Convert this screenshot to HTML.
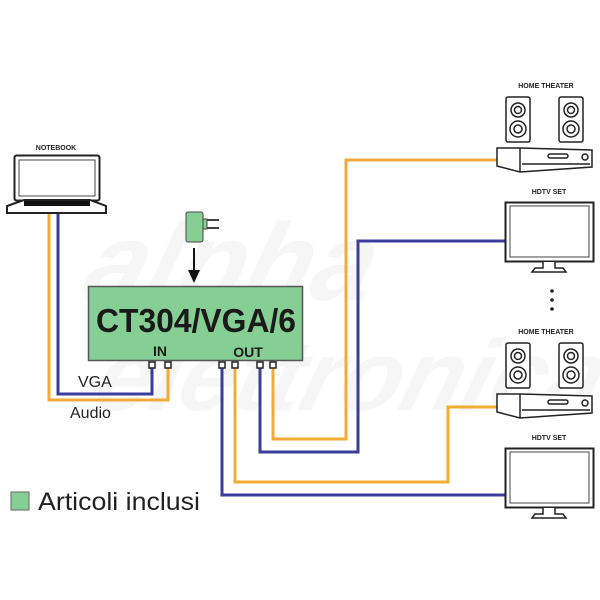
<!DOCTYPE html>
<html><head><meta charset="utf-8"><style>
html,body{margin:0;padding:0;background:#fff}
svg{display:block}
text{font-family:"Liberation Sans",sans-serif}
</style></head><body>
<svg width="600" height="600" viewBox="0 0 600 600" xmlns="http://www.w3.org/2000/svg">
<!-- faint watermark -->
<g fill="#f6f6f6" font-weight="bold" font-style="italic">
<text x="160" y="300" font-size="110" transform="skewX(-15)">alpha</text>
<text x="200" y="410" font-size="100" transform="skewX(-15)">elettronica</text>
</g>

<!-- cables -->
<g fill="none" stroke-width="3">
<polyline points="49,212 49,400 168,400 168,368" stroke="#f2ab35"/>
<polyline points="58,212 58,394 152,394 152,368" stroke="#3a3d9c"/>
<polyline points="222,368 222,495 505,495" stroke="#3a3d9c"/>
<polyline points="235,368 235,482 448,482 448,407 497,407" stroke="#f2ab35"/>
<polyline points="260,368 260,452 358,452 358,241 505,241" stroke="#3a3d9c"/>
<polyline points="273,368 273,439 346,439 346,160 497,160" stroke="#f2ab35"/>
</g>

<!-- notebook -->
<text x="56" y="150" font-size="7" font-weight="bold" text-anchor="middle" fill="#222">NOTEBOOK</text>
<rect x="14.5" y="155.5" width="85" height="45" rx="2" fill="#fff" stroke="#222" stroke-width="2"/>
<rect x="19" y="160" width="76" height="36" fill="#fff" stroke="#444" stroke-width="1"/>
<path d="M7,206 L24,200 L90,200 L106,206 L106,213 L7,213 Z" fill="#fff" stroke="#222" stroke-width="2"/>
<rect x="24" y="201" width="66" height="5" fill="#111"/>

<!-- adapter -->
<rect x="186" y="212" width="17" height="30" rx="2" fill="#86cf94" stroke="#444" stroke-width="1"/>
<rect x="203" y="219" width="4" height="10" fill="#86cf94" stroke="#444" stroke-width="1"/>
<line x1="207" y1="220" x2="219" y2="220" stroke="#444" stroke-width="2"/>
<line x1="207" y1="228" x2="219" y2="228" stroke="#444" stroke-width="2"/>
<line x1="194" y1="248" x2="194" y2="272" stroke="#111" stroke-width="2"/>
<polygon points="188,270 200,270 194,283" fill="#111"/>

<!-- main box -->
<rect x="88.5" y="286.5" width="214" height="74" fill="#86cf94" stroke="#555" stroke-width="1.5"/>
<text x="196" y="332" font-size="33" font-weight="bold" text-anchor="middle" fill="#1a1a1a" textLength="200" lengthAdjust="spacingAndGlyphs">CT304/VGA/6</text>
<text x="160" y="356" font-size="14" font-weight="bold" text-anchor="middle" fill="#1a1a1a">IN</text>
<text x="248" y="357" font-size="14" font-weight="bold" text-anchor="middle" fill="#1a1a1a">OUT</text>
<g fill="#fff" stroke="#222" stroke-width="1.5">
<rect x="149" y="362" width="6" height="6"/><rect x="165" y="362" width="6" height="6"/>
<rect x="219" y="362" width="6" height="6"/><rect x="232" y="362" width="6" height="6"/>
<rect x="257" y="362" width="6" height="6"/><rect x="270" y="362" width="6" height="6"/>
</g>
<text x="78" y="387" font-size="16" fill="#222">VGA</text>
<text x="70" y="418" font-size="16" fill="#222">Audio</text>

<defs>
<g id="ht">
<text x="546" y="0" font-size="7" font-weight="bold" text-anchor="middle" fill="#222">HOME THEATER</text>
<g fill="#fff" stroke="#222" stroke-width="1.5">
<rect x="506" y="9" width="24" height="45" rx="2"/>
<circle cx="518" cy="22" r="7"/><circle cx="518" cy="22" r="3.5"/>
<circle cx="518" cy="41" r="8"/><circle cx="518" cy="41" r="4"/>
<rect x="559" y="9" width="24" height="45" rx="2"/>
<circle cx="571" cy="22" r="7"/><circle cx="571" cy="22" r="3.5"/>
<circle cx="571" cy="41" r="8"/><circle cx="571" cy="41" r="4"/>
<path d="M497,60 L520,60 L592,62 L592,79 L520,84 L497,78 Z"/>
<line x1="520" y1="60" x2="520" y2="84"/>
<rect x="548" y="66" width="20" height="4" rx="2"/>
<circle cx="585" cy="69" r="3"/>
<line x1="522" y1="76" x2="590" y2="76"/>
</g>
</g>
<g id="tv">
<text x="549" y="0" font-size="7" font-weight="bold" text-anchor="middle" fill="#222">HDTV SET</text>
<rect x="505.5" y="8.5" width="88" height="59" fill="#fff" stroke="#222" stroke-width="2"/>
<rect x="510" y="12" width="79" height="51" fill="#fff" stroke="#444" stroke-width="1"/>
<path d="M543,68 L543,74 L535,74 L532,78 L566,78 L563,74 L555,74 L555,68" fill="#fff" stroke="#222" stroke-width="1.5"/>
</g>
</defs>
<use href="#ht" transform="translate(0,88)"/>
<use href="#tv" transform="translate(0,194)"/>
<g fill="#222"><circle cx="552" cy="291" r="1.8"/><circle cx="552" cy="300" r="1.8"/><circle cx="552" cy="309" r="1.8"/></g>
<use href="#ht" transform="translate(0,334)"/>
<use href="#tv" transform="translate(0,440)"/>

<!-- legend -->
<rect x="11" y="492" width="18" height="18" fill="#86cf94" stroke="#666" stroke-width="1"/>
<text x="38" y="510" font-size="25" fill="#222" textLength="162" lengthAdjust="spacingAndGlyphs">Articoli inclusi</text>
</svg>
</body></html>
